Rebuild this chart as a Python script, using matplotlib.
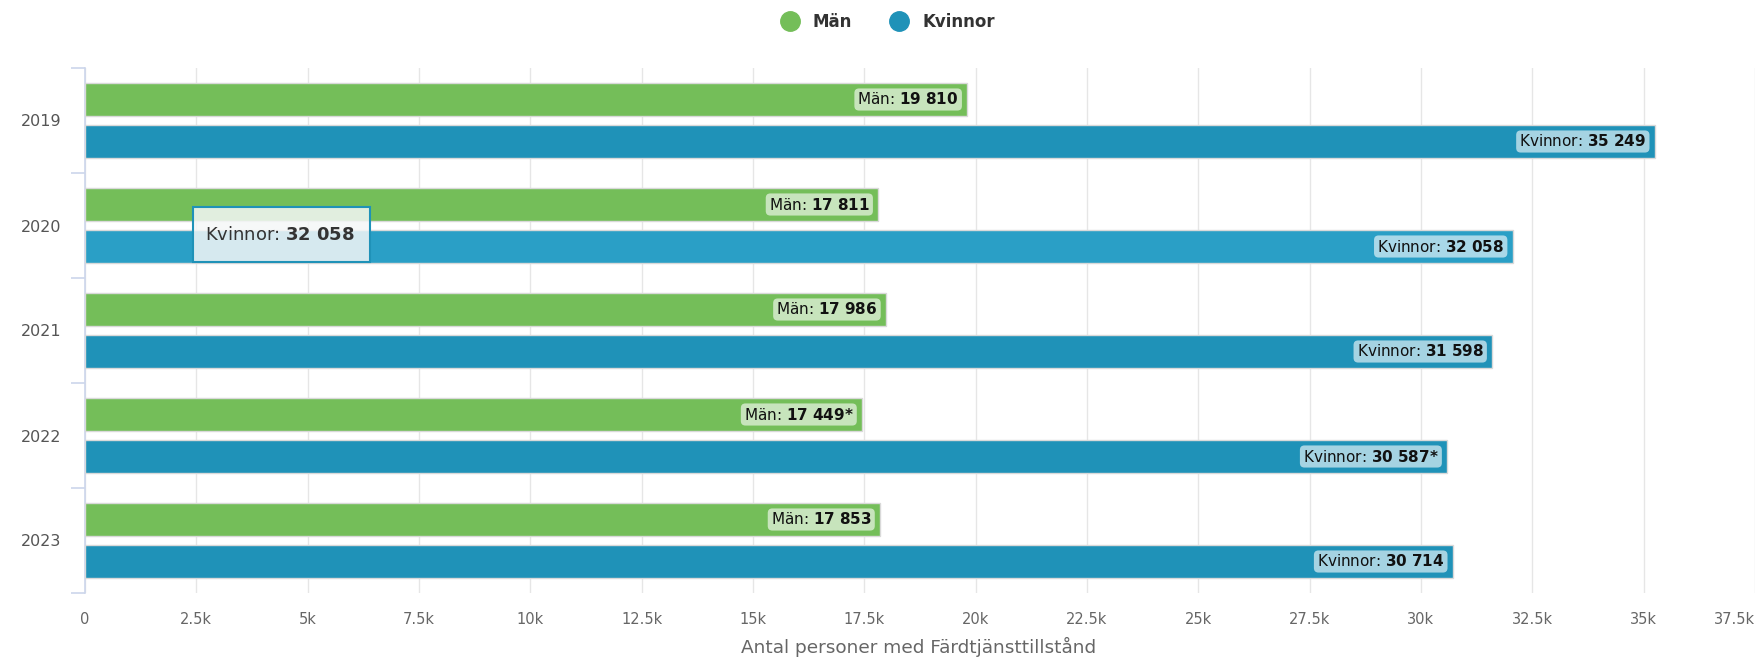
import matplotlib
matplotlib.use("Agg")
import matplotlib.pyplot as plt
from matplotlib.lines import Line2D
from matplotlib.patches import FancyBboxPatch
import numpy as np

years = ["2019", "2020", "2021", "2022", "2023"]
man = [19810, 17811, 17986, 17449, 17853]
kvinnor = [35249, 32058, 31598, 30587, 30714]
man_labels = ["19 810", "17 811", "17 986", "17 449*", "17 853"]
kv_labels = ["35 249", "32 058", "31 598", "30 587*", "30 714"]
xticks = [0, 2500, 5000, 7500, 10000, 12500, 15000, 17500, 20000, 22500,
          25000, 27500, 30000, 32500, 35000, 37500]
xticklabels = ["0", "2.5k", "5k", "7.5k", "10k", "12.5k", "15k", "17.5k", "20k",
               "22.5k", "25k", "27.5k", "30k", "32.5k", "35k", "37.5k"]
xlabel = "Antal personer med Färdtjänsttillstånd"
tooltip_series = "Kvinnor"
tooltip_value = "32 058"

GREEN = "#74be59"
BLUE = "#1f92b8"
BLUE_HOVER = "#2a9fc6"

W, H = 1757, 657
fig = plt.figure(figsize=(W / 100, H / 100), dpi=100)
ax = fig.add_axes([85 / W, 64 / H, 1670 / W, 525 / H])

y = np.arange(len(years))
off = 0.2
h = 0.305
ax.barh(y - off, man, height=h, color=GREEN, edgecolor="#d9d9d9", linewidth=1, zorder=3)
kcolors = [BLUE if i != 1 else BLUE_HOVER for i in range(len(years))]
ax.barh(y + off, kvinnor, height=h, color=kcolors, edgecolor="#d9d9d9", linewidth=1, zorder=3)

def tex(s):
    return s.replace(" ", r"\ ").replace("*", r"{*}")

for i in range(len(years)):
    ax.annotate("Män: $\\mathbf{" + tex(man_labels[i]) + "}$", xy=(man[i], y[i] - off),
                xytext=(-6, 0), textcoords="offset points", ha="right", va="center",
                fontsize=11, color="#111111", zorder=5,
                bbox=dict(boxstyle="round,pad=0.2,rounding_size=0.3", fc=(1, 1, 1, 0.6), ec="none"))
    ax.annotate("Kvinnor: $\\mathbf{" + tex(kv_labels[i]) + "}$", xy=(kvinnor[i], y[i] + off),
                xytext=(-6, 0), textcoords="offset points", ha="right", va="center",
                fontsize=11, color="#111111", zorder=5,
                bbox=dict(boxstyle="round,pad=0.2,rounding_size=0.3", fc=(1, 1, 1, 0.6), ec="none"))

ax.set_xlim(0, 37500)
ax.set_ylim(len(years) - 0.5, -0.5)
ax.set_xticks(xticks)
ax.set_xticklabels(xticklabels)
ax.get_xticklabels()[-1].set_horizontalalignment("right")
ax.set_yticks(y)
ax.set_yticklabels(years)
ax.set_yticks(np.arange(-0.5, len(years), 1), minor=True)
ax.tick_params(axis="y", which="major", length=0, pad=17, labelsize=11.5, labelcolor="#555555")
ax.tick_params(axis="y", which="minor", length=10, width=1.2, color="#ccd6eb")
ax.tick_params(axis="x", which="major", length=0, pad=14, labelsize=10.5, labelcolor="#666666")
ax.grid(axis="x", color="#e6e6e6", linewidth=1, zorder=0)
ax.set_axisbelow(True)
for s in ["top", "right", "bottom"]:
    ax.spines[s].set_visible(False)
ax.spines["left"].set_color("#ccd6eb")
ax.spines["left"].set_linewidth(1.2)

fig.text(919 / W, 1 - 647 / H, xlabel, ha="center", va="center", fontsize=13.3, color="#666666")

handles = [Line2D([], [], marker="o", linestyle="none", markersize=14, color=GREEN),
           Line2D([], [], marker="o", linestyle="none", markersize=14, color=BLUE)]
fig.legend(handles, ["Män", "Kvinnor"], loc="center", bbox_to_anchor=(884 / W, 1 - 22 / H),
           ncol=2, frameon=False, prop=dict(weight="bold", size=12), handletextpad=0.4,
           columnspacing=1.8, labelcolor="#333333")

# tooltip (hover state in reference)
x0, y0, x1, y1 = 193, 207, 370, 262
tip = FancyBboxPatch((x0 / W, 1 - y1 / H), (x1 - x0) / W, (y1 - y0) / H,
                     boxstyle="square,pad=0", transform=fig.transFigure,
                     fc=(0.96, 0.97, 0.97, 0.85), ec=BLUE, lw=1.5, zorder=10)
fig.add_artist(tip)
fig.text(205 / W, 1 - 235 / H, tooltip_series + ": $\\mathbf{" + tex(tooltip_value) + "}$",
         ha="left", va="center", fontsize=13, color="#333333", zorder=11)

fig.savefig("out.png", dpi=100)
